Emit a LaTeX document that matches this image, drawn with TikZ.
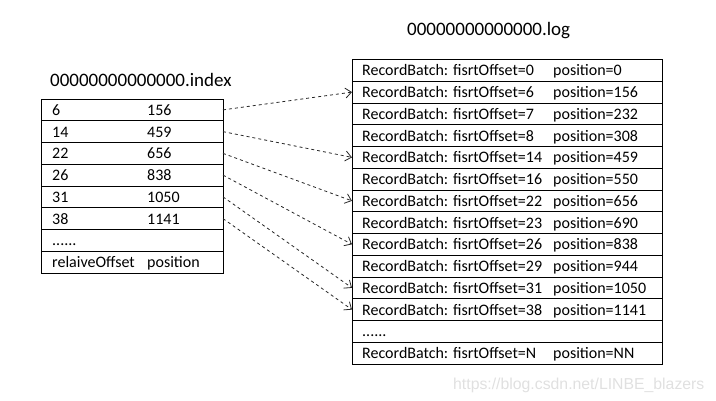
\documentclass[tikz,border=0pt]{standalone}
\usepackage{fontspec}
\setmainfont{Carlito}
\newfontfamily\wmfont{Liberation Sans}
\usetikzlibrary{arrows.meta}
\newcommand\mysixdots{......}
\begin{document}
\begin{tikzpicture}[x=1pt,y=-1pt,
  rowbox/.style={draw, line width=0.9pt, minimum width=#1, minimum height=21.75pt, inner sep=0pt, outer sep=0pt, anchor=north west},
  celltext/.style={anchor=base west, inner sep=0pt, font=\fontsize{16}{18}\selectfont},
  titletext/.style={anchor=west, inner sep=0pt, font=\fontsize{19}{22}\selectfont},
  link/.style={dashed, draw=black!85, line width=0.8pt, -{Straight Barb[length=6pt,width=10pt]}}]
\useasboundingbox (0,0) rectangle (716,401);
% titles
\node[titletext] (idxtitle) at (50,80) {00000000000000.index};
\node[titletext] (logtitle) at (407,31) {00000000000000.log};
% index table
\foreach \i/\a/\b in {1/6/156, 2/14/459, 3/22/656, 4/26/838, 5/31/1050, 6/38/1141, 7/\mysixdots/{}, 8/relaiveOffset/position} {
  \node[rowbox=182pt] (i\i) at (41,{99+21.75*(\i-1)}) {};
  \node[celltext] (ia\i) at (52,{104.6+21.75*(\i-0.5)}) {\a};
  \node[celltext] (ib\i) at (147,{104.6+21.75*(\i-0.5)}) {\b};
}
% log table
\foreach \i/\a/\b in {1/0/0, 2/6/156, 3/7/232, 4/8/308, 5/14/459, 6/16/550, 7/22/656, 8/23/690, 9/26/838, 10/29/944, 11/31/1050, 12/38/1141, 14/N/NN} {
  \node[rowbox=310pt] (l\i) at (352,{59.5+21.75*(\i-1)}) {};
  \node[celltext] (la\i) at (362,{65.1+21.75*(\i-0.5)}) {RecordBatch: fisrtOffset=\a};
  \node[celltext] (lb\i) at (553,{65.1+21.75*(\i-0.5)}) {position=\b};
}
\node[rowbox=310pt] (l13) at (352,{59.5+21.75*12}) {};
\node[celltext] (la13) at (362,{65.1+21.75*12.5}) {\mysixdots};
% links
\foreach \s/\t in {1/2, 2/5, 3/7, 4/9, 5/11, 6/12} {
  \draw[link] (i\s.east) -- (l\t.west);
}
% watermark
\node[anchor=west, inner sep=0pt, text=black!12, font=\wmfont\fontsize{15.8}{18}\selectfont] (wm) at (453,385) {https://blog.csdn.net/LINBE\_blazers};
\end{tikzpicture}
\end{document}
